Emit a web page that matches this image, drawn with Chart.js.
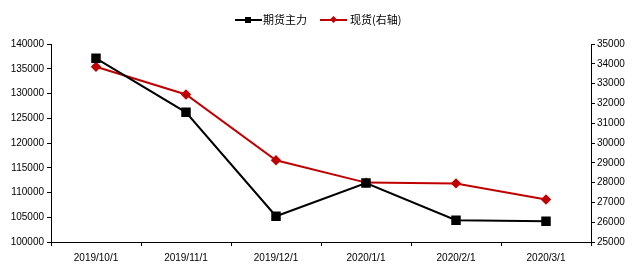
<!DOCTYPE html>
<html>
<head>
<meta charset="utf-8">
<script src="https://cdn.jsdelivr.net/npm/chart.js@4"></script>
<style>
  html, body { margin: 0; padding: 0; background: #fff; }
  #wrap { position: relative; width: 638px; height: 271px; }
  canvas { display: block; }
  #legend { position: absolute; top: 12px; left: 235px; font: 11px "Noto Sans CJK SC", sans-serif; color: #000; white-space: nowrap; }
  .item { position: absolute; top: 0; height: 15px; line-height: 15px; }
  .line { position: absolute; top: 7px; width: 27px; height: 2px; }
  .mark { position: absolute; }
</style>
</head>
<body>
<div id="wrap">
  <canvas id="myChart" width="638" height="271"></canvas>
  <div id="legend">
    <div class="item" style="left:0">
      <span class="line" style="left:0;background:#000"></span>
      <span class="mark" style="left:10px;top:5px;width:6px;height:6px;background:#000"></span>
      <span style="position:absolute;left:28px">期货主力</span>
    </div>
    <div class="item" style="left:85px">
      <span class="line" style="left:0;background:#c00000"></span>
      <span class="mark" style="left:11px;top:5px;width:5px;height:5px;background:#c00000;transform:rotate(45deg)"></span>
      <span style="position:absolute;left:30px">现货(右轴)</span>
    </div>
  </div>
</div>
<script>
// data
const labels = ['2019/10/1', '2019/11/1', '2019/12/1', '2020/1/1', '2020/2/1', '2020/3/1'];
const futures = [137100, 126200, 105200, 111900, 104400, 104200];   // 期货主力 (left axis)
const spot = [33850, 32450, 29130, 28000, 27960, 27150];            // 现货 (right axis)

const tickFont = { family: 'Liberation Sans', size: 10 };
const plain = (v) => String(v); // no thousands separator

const ctx = document.getElementById('myChart').getContext('2d');
const myChart = new Chart(ctx, {
    type: 'line',
    data: {
        labels: labels,
        datasets: [{
            label: '期货主力',
            data: futures,
            yAxisID: 'y',
            borderColor: '#000',
            backgroundColor: '#000',
            borderWidth: 2,
            pointStyle: 'rect',
            pointRadius: 5.3,
            tension: 0
        }, {
            label: '现货(右轴)',
            data: spot,
            yAxisID: 'y1',
            borderColor: '#c00000',
            backgroundColor: '#c00000',
            borderWidth: 2,
            pointStyle: 'rectRot',
            pointRadius: 3.8,
            tension: 0
        }]
    },
    options: {
        responsive: false,
        animation: false,
        layout: { padding: { top: 44, left: 0, right: 0, bottom: 0 } },
        plugins: {
            legend: { display: false },
            tooltip: { enabled: false }
        },
        scales: {
            x: {
                offset: true,
                grid: { display: true, offset: true, drawOnChartArea: false, color: '#000', tickLength: 4 },
                border: { display: true, color: '#000', width: 1 },
                ticks: { color: '#000', font: tickFont, padding: 6, maxRotation: 0 },
                afterFit: (s) => { s.height = 29; }
            },
            y: {
                position: 'left',
                min: 100000,
                max: 140000,
                grid: { display: true, drawOnChartArea: false, color: '#000', tickLength: 4 },
                border: { display: true, color: '#000', width: 1 },
                ticks: { stepSize: 5000, color: '#000', font: tickFont, padding: 3, callback: plain },
                afterFit: (s) => { s.width = 51; }
            },
            y1: {
                position: 'right',
                min: 25000,
                max: 35000,
                grid: { display: true, drawOnChartArea: false, color: '#000', tickLength: 4 },
                border: { display: true, color: '#000', width: 1 },
                ticks: { stepSize: 1000, color: '#000', font: tickFont, padding: 2, callback: plain },
                afterFit: (s) => { s.width = 47; }
            }
        }
    }
});
</script>
</body>
</html>
